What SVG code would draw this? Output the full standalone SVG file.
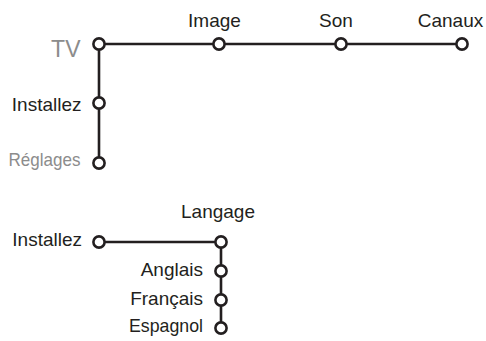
<svg xmlns="http://www.w3.org/2000/svg" width="486" height="341" viewBox="0 0 486 341">
<style>
.ln{stroke:#231f20;stroke-width:2.6;fill:none}
.nd{fill:#fff;stroke:#231f20;stroke-width:2.6}
text{font-family:"Liberation Sans",Arial,sans-serif;font-size:19px;fill:#231f20}
.g{fill:#8c8c8c}
.e{text-anchor:end}
.m{text-anchor:middle}
</style>
<g id="connectors">
<path class="ln" d="M99 44H462M99 44V163"/>
<path class="ln" d="M99 242H221V327"/>
</g>
<g id="tv"><circle class="nd" cx="99" cy="44" r="5.6"/><text class="g e" x="80.5" y="57" style="font-size:23px">TV</text></g>
<g id="image"><circle class="nd" cx="219" cy="44" r="5.6"/><text class="m" x="214.5" y="27">Image</text></g>
<g id="son"><circle class="nd" cx="341" cy="44" r="5.6"/><text class="m" x="336" y="27">Son</text></g>
<g id="canaux"><circle class="nd" cx="462" cy="44" r="5.6"/><text class="m" x="450.5" y="27">Canaux</text></g>
<g id="installez1"><circle class="nd" cx="99" cy="103" r="5.6"/><text class="e" x="81.5" y="110.5">Installez</text></g>
<g id="reglages"><circle class="nd" cx="99" cy="163" r="5.6"/><text class="g e" x="80.5" y="166" textLength="72" lengthAdjust="spacingAndGlyphs">Réglages</text></g>
<g id="installez2"><circle class="nd" cx="99" cy="242" r="5.6"/><text class="e" x="82" y="246">Installez</text></g>
<g id="langage"><circle class="nd" cx="221" cy="242" r="5.6"/><text class="m" x="218" y="218">Langage</text></g>
<g id="anglais"><circle class="nd" cx="221" cy="271" r="5.6"/><text class="e" x="203" y="276">Anglais</text></g>
<g id="francais"><circle class="nd" cx="221" cy="300" r="5.6"/><text class="e" x="203" y="305">Français</text></g>
<g id="espagnol"><circle class="nd" cx="221" cy="328" r="5.6"/><text class="e" x="203" y="332" textLength="74" lengthAdjust="spacingAndGlyphs">Espagnol</text></g>
</svg>
